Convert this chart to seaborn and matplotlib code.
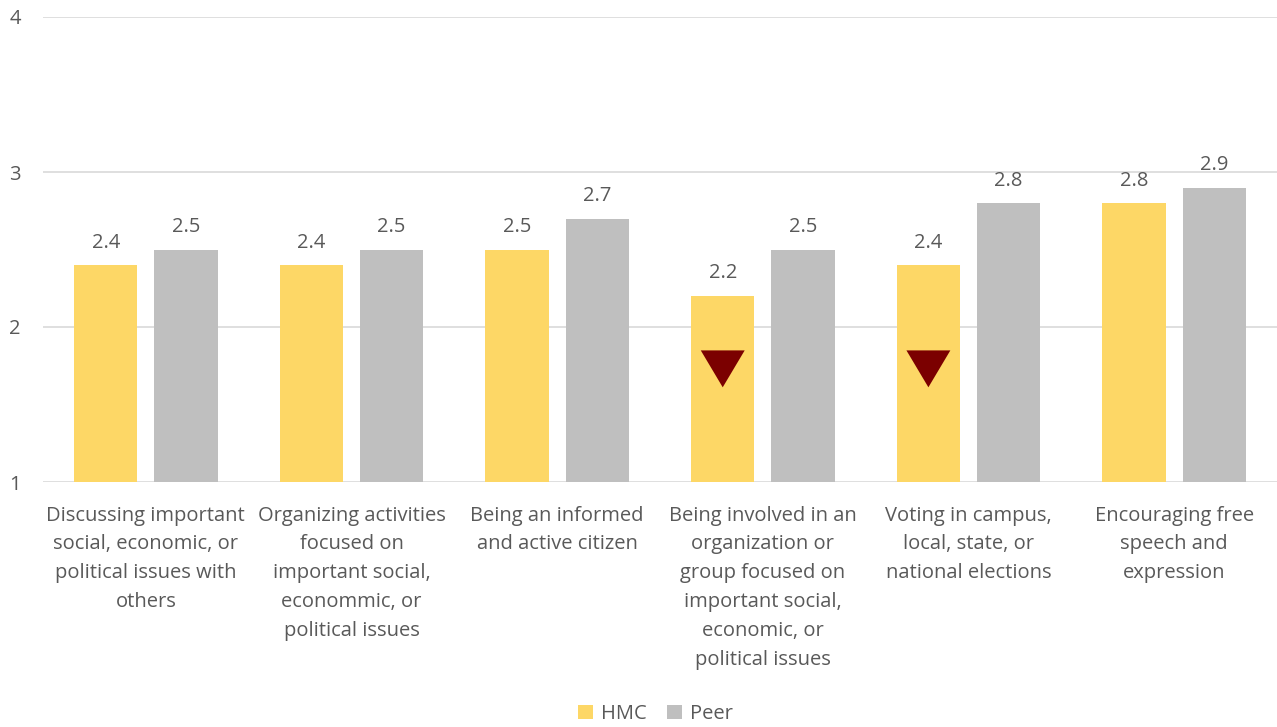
import matplotlib
matplotlib.use("Agg")
import matplotlib.pyplot as plt
import seaborn as sns
import pandas as pd

categories = [
    "Discussing important\nsocial, economic, or\npolitical issues with\nothers",
    "Organizing activities\nfocused on\nimportant social,\neconommic, or\npolitical issues",
    "Being an informed\nand active citizen",
    "Being involved in an\norganization or\ngroup focused on\nimportant social,\neconomic, or\npolitical issues",
    "Voting in campus,\nlocal, state, or\nnational elections",
    "Encouraging free\nspeech and\nexpression",
]
hmc = [2.4, 2.4, 2.5, 2.2, 2.4, 2.8]
peer = [2.5, 2.5, 2.7, 2.5, 2.8, 2.9]
sig_lower = [False, False, False, True, True, False]
series = ["HMC", "Peer"]
yticks = [1, 2, 3, 4]

df = pd.DataFrame({
    "cat": categories * 2,
    "group": ["HMC"] * 6 + ["Peer"] * 6,
    "value": hmc + peer,
})

sns.set_theme(style="white")
plt.rcParams["font.family"] = ["Open Sans", "DejaVu Sans"]
text_color = "#595959"
fs = 14.5

fig = plt.figure(figsize=(12.77, 7.27), dpi=100)
ax = fig.add_axes([43 / 1277, 1 - 482 / 727, 1 - 43 / 1277, (482 - 17) / 727])

palette = {"HMC": "#FDD766", "Peer": "#BFBFBF"}
sns.barplot(data=df, x="cat", y="value", hue="group", order=categories,
            hue_order=series, palette=palette, width=0.78, gap=0.21,
            saturation=1, ax=ax, legend=True, linewidth=0)

ax.set_ylim(1, 4)
ax.set_xlim(-0.5, 5.5)
ax.set_yticks(yticks)
ax.grid(axis="y", color="#D9D9D9", linewidth=1.2)
ax.set_axisbelow(True)
for s in ax.spines.values():
    s.set_visible(False)
ax.tick_params(axis="y", length=0, pad=16, labelsize=fs, labelcolor=text_color)
ax.tick_params(axis="x", length=0, pad=17, labelsize=fs, labelcolor=text_color)
ax.set_xlabel("")
ax.set_ylabel("")
ax.set_xticks(range(len(categories)))
ax.set_xticklabels(categories, linespacing=1.59, va="top")

for cont in ax.containers:
    ax.bar_label(cont, fmt="%.1f", padding=9, fontsize=fs, color=text_color)

tri = [(-1.0, 0.84), (1.0, 0.84), (0.0, -0.84), (-1.0, 0.84)]
hmc_bars = ax.containers[0]
for bar, flag in zip(hmc_bars, sig_lower):
    if flag:
        cx = bar.get_x() + bar.get_width() / 2
        ax.scatter([cx], [1.73], marker=tri, s=1000, color="#7B0000",
                   edgecolors="none", zorder=5)

leg = ax.legend(loc="upper center", bbox_to_anchor=(0.496, -0.46), ncol=2,
                frameon=False, fontsize=fs, handlelength=0.75, handleheight=0.75,
                handletextpad=0.4, columnspacing=1.0, borderaxespad=0)
for t in leg.get_texts():
    t.set_color(text_color)

fig.savefig("out.png", dpi=100)
